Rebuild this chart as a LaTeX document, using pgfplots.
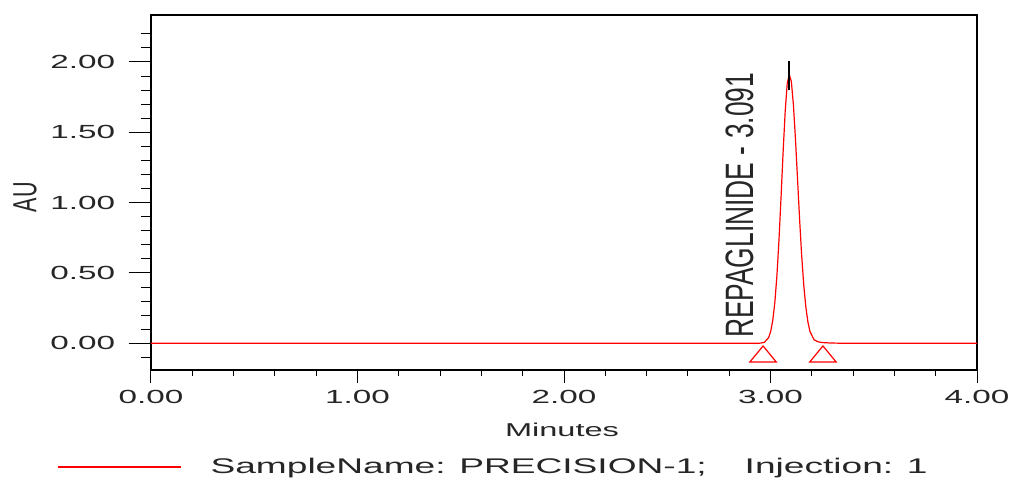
\documentclass[border=0pt]{standalone}
\usepackage{pgfplots}
\pgfplotsset{compat=1.18}
\usepackage{fontspec}
\setmainfont{Liberation Sans}
\newfontfamily\widefont{Liberation Sans}[FakeStretch=1.75]
\newfontfamily\plainfont{Liberation Sans}

\begin{document}
\begin{tikzpicture}
\useasboundingbox (-75.5pt,-55.5pt) rectangle (429.5pt,185pt);
\begin{axis}[
  scale only axis, width=413pt, height=177.5pt,
  xmin=0, xmax=4, ymin=-0.19, ymax=2.334,
  axis line style={black, line width=0.6pt},
  tick align=outside,
  xtick={0,1,2,3,4},
  xticklabels={0.00,1.00,2.00,3.00,4.00},
  minor xtick={0.2,0.4,0.6,0.8,1.2,1.4,1.6,1.8,2.2,2.4,2.6,2.8,3.2,3.4,3.6,3.8},
  ytick={0,0.5,1,1.5,2},
  yticklabels={0.00,0.50,1.00,1.50,2.00},
  minor ytick={-0.1,0.1,0.2,0.3,0.4,0.6,0.7,0.8,0.9,1.1,1.2,1.3,1.4,1.6,1.7,1.8,1.9,2.1,2.2},
  xtick style={black, line width=0.5pt, /pgfplots/major tick length=6.5pt, /pgfplots/minor tick length=3pt},
  ytick style={black, line width=0.5pt, /pgfplots/major tick length=11pt, /pgfplots/minor tick length=5pt},
  xtick pos=bottom, ytick pos=left,
  tick label style={font=\widefont\fontsize{9.5}{11}\selectfont, text=black!85},
  xticklabel style={inner sep=0pt, anchor=north, yshift=-5.75pt},
  yticklabel style={inner sep=0pt, anchor=east, xshift=-13.5pt},
  xlabel={Minutes},
  xlabel style={at={(axis description cs:0.4976,-0.169)}, anchor=center, inner sep=0pt, font=\widefont\fontsize{9.3}{11}\selectfont, text=black!85},
  ylabel={\scalebox{1}[1.55]{AU}},
  ylabel style={at={(axis description cs:-0.1525,0.487)}, anchor=center, inner sep=0pt, font=\plainfont\fontsize{10.8}{12}\selectfont, text=black!85},
  legend style={at={(axis description cs:-0.1138,-0.273)}, anchor=west, draw=none, fill=none, inner sep=0pt,
    font=\widefont\fontsize{10.6}{13}\selectfont, text=black!85,
    nodes={inner sep=0pt}},
  legend image code/.code={\draw[red, line width=0.6pt] (0pt,0pt) -- (61.5pt,0pt); \path (76pt,0pt);},
  clip=false,
]
\addplot[red, line width=0.6pt] coordinates {
(0,0) (2.6,0) (2.931,0.000) (2.951,0.001) (2.971,0.007) (2.991,0.041)
(3.001,0.084) (3.011,0.163) (3.021,0.290) (3.031,0.479) (3.041,0.732)
(3.051,1.036) (3.061,1.357) (3.071,1.645) (3.081,1.848) (3.091,1.910)
(3.101,1.861) (3.111,1.694) (3.121,1.449) (3.131,1.165) (3.141,0.879)
(3.151,0.623) (3.161,0.415) (3.171,0.260) (3.181,0.153) (3.191,0.084)
(3.211,0.025) (3.231,0.010) (3.251,0.005) (3.291,0.002) (3.35,0.000) (4,0)
};
\addlegendentry{SampleName: PRECISION-1;\hspace{19pt}Injection: 1}
\addplot[black, line width=1pt, forget plot] coordinates {(3.088,1.80) (3.088,2.01)};
\addplot[only marks, red, forget plot, mark=triangle, mark size=5.33pt,
  mark options={xscale=1.43, line width=0.6pt, fill=none}]
  coordinates {(2.964,-0.095) (3.254,-0.095)};
\node[rotate=90, anchor=base west, inner sep=0pt, font=\plainfont\fontsize{13.2}{15}\selectfont, text=black!85]
  at (axis cs:2.92,0.035) {\scalebox{1}[1.5]{REPAGLINIDE - 3.091}};
\end{axis}
\end{tikzpicture}
\end{document}
